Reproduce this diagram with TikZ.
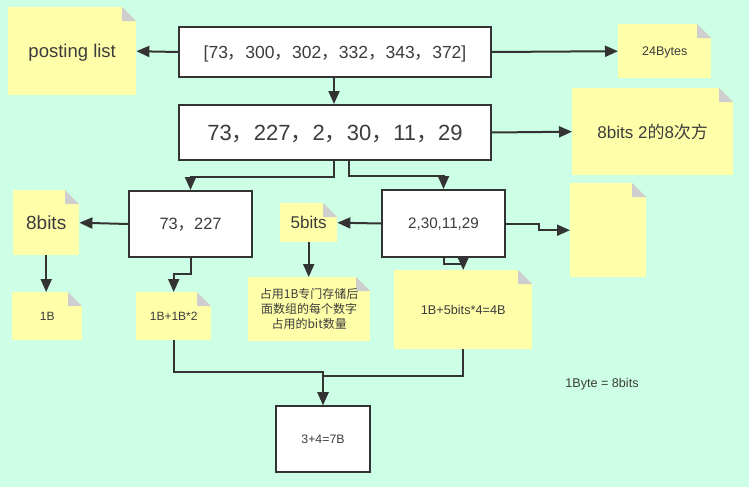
\documentclass[tikz,border=0pt]{standalone}
\usepackage{fontspec}
\setmainfont{Liberation Sans}
\newfontfamily\cjk{Noto Sans CJK SC}
\newcommand\cm{{\cjk ，}}
\usetikzlibrary{arrows.meta,calc}
\definecolor{bgc}{RGB}{204,255,229}
\definecolor{notec}{RGB}{255,255,170}
\definecolor{foldc}{RGB}{206,206,206}
\definecolor{linec}{RGB}{51,51,51}
\definecolor{textc}{RGB}{60,60,60}
\tikzset{
  box/.style={draw=linec, line width=2pt, fill=white, inner sep=0pt, text=textc, anchor=north west},
  note/.style={fill=notec, inner sep=0pt, text=textc, anchor=north west,
    path picture={
      \fill[bgc] ($(path picture bounding box.north east)+(-14pt,0pt)$) -- (path picture bounding box.north east) -- ++(0pt,-14pt) -- cycle;
      \fill[foldc] ($(path picture bounding box.north east)+(-14pt,0pt)$) -- ++(14pt,-14pt) -- ++(-14pt,0pt) -- cycle;
    }},
  conn/.style={draw=linec, line width=2pt, -{Triangle[length=13pt,width=11pt]}},
  fs/.style={font=\fontsize{#1}{#1}\selectfont, text depth=0pt}
}
\begin{document}
\begin{tikzpicture}[x=1pt,y=-1pt]
\fill[bgc] (0,0) rectangle (749,487);
\useasboundingbox (0,0) rectangle (749,487);
% boxes
\node[box, minimum width=312pt, minimum height=50pt, fs=17.5] (b1) at (178,26) {[73\cm 300\cm 302\cm 332\cm 343\cm 372]};
\node[box, minimum width=312pt, minimum height=55pt, fs=22] (b2) at (178,104) {73\cm 227\cm 2\cm 30\cm 11\cm 29};
\node[box, minimum width=123pt, minimum height=66pt, fs=16.4] (b3) at (128,190) {73\cm 227};
\node[box, minimum width=123pt, minimum height=67pt, fs=15.2] (b4) at (381,189) {2,30,11,29};
\node[box, minimum width=94pt, minimum height=66pt, fs=12.3] (b5) at (275,405) {3+4=7B};
% notes
\node[note, minimum width=128pt, minimum height=88pt, fs=18.5] (pl) at (8,7) {posting list};
\node[note, minimum width=93pt, minimum height=54pt, fs=12.5] (n24) at (618,24) {24Bytes};
\node[note, minimum width=161pt, minimum height=87pt, fs=17] (n8) at (572,88) {8bits 2{\cjk 的}8{\cjk 次方}};
\node[note, minimum width=66pt, minimum height=65pt, fs=19] (n8b) at (13,190) {8bits};
\node[note, minimum width=70pt, minimum height=48pt, fs=12] (n1B) at (12,292) {1B};
\node[note, minimum width=75pt, minimum height=48pt, fs=12] (n1B2) at (136,292) {1B+1B*2};
\node[note, minimum width=57pt, minimum height=39pt, fs=17] (n5) at (280,203) {5bits};
\node[note, minimum width=122pt, minimum height=64pt, align=center, font=\cjk\fontsize{12}{15}\selectfont] (nzy) at (248,277) {占用1B专门存储后\\面数组的每个数字\\占用的bit数量};
\node[note, minimum width=76pt, minimum height=94pt] (nempty) at (570,183) {};
\node[note, minimum width=138pt, minimum height=79pt, fs=12.7] (n145) at (394,270) {1B+5bits*4=4B};
\node[text=textc, fs=12.6] (lbl) at (602,383) {1Byte = 8bits};
% connectors
\draw[conn] (b1.west) -- (pl.east);
\draw[conn] (b1.east) -- (n24.west);
\draw[conn] ([xshift=-1pt]b1.south) -- ([xshift=-1pt]b2.north);
\draw[conn] (b2.east) -- (n8.west);
\draw[conn] ([xshift=-1pt]b2.south) -- ++(0,16) -| (b3.north);
\draw[conn] ([xshift=14pt]b2.south) -- ++(0,15) -| (b4.north);
\draw[conn] (b3.west) -- (n8b.east);
\draw[conn] (n8b.south) -- (n8b.south |- n1B.north);
\draw[conn] (b3.south) -- ++(0,16) -| (n1B2.north);
\draw[conn] (b4.west) -- (n5.east);
\draw[conn] (n5.south) -- (n5.south |- nzy.north);
\draw[conn] (b4.east) -- ++(33,0) |- (nempty.west);
\draw[conn] (b4.south) -- ++(0,6) -| (n145.north);
\draw[conn] (n1B2.south) -- ++(0,32) -| (b5.north);
\draw[conn] (n145.south) -- ++(0,27) -| (b5.north);
\end{tikzpicture}
\end{document}
